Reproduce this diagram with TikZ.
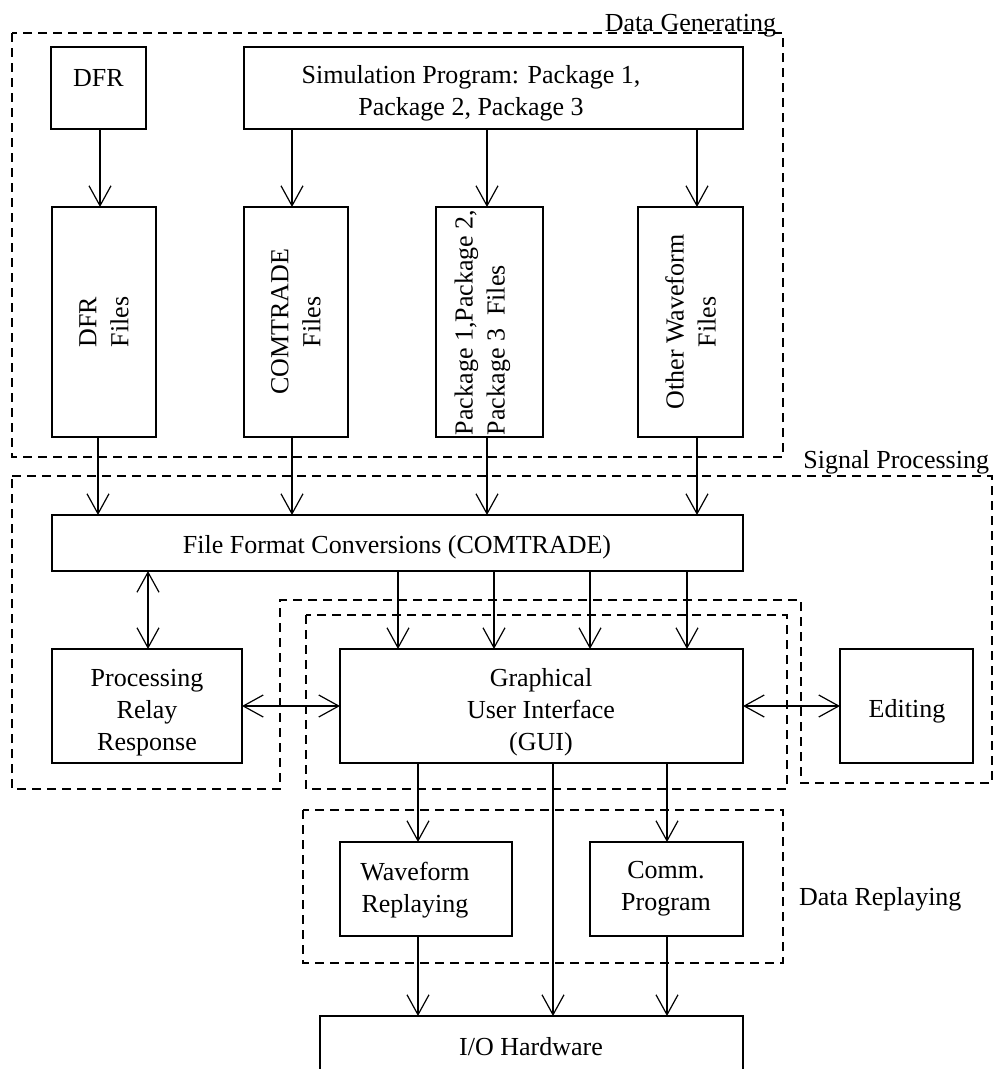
\documentclass[tikz,border=0pt]{standalone}
\usepackage{fontspec}
\setmainfont{Liberation Serif}
\usetikzlibrary{arrows.meta}
\begin{document}
\begin{tikzpicture}[x=1pt,y=-1pt,
  font=\fontsize{26}{32}\selectfont,
  box/.style={draw, line width=1.6pt, anchor=north west, inner sep=0pt, outer sep=0pt, align=center},
  txt/.style={inner sep=0pt, outer sep=0pt, align=center},
  arr/.style={line width=1.6pt, -{Straight Barb[length=20pt,width=22pt,line width=1.2pt]}},
  biarr/.style={line width=1.6pt, {Straight Barb[length=20pt,width=22pt,line width=1.2pt]}-{Straight Barb[length=20pt,width=22pt,line width=1.2pt]}},
  grp/.style={line width=1.5pt, dash pattern=on 9pt off 6pt},
]
\useasboundingbox (0,0) rectangle (993,1069);
\clip (0,0) rectangle (993,1069);

% ---- group outlines ----
\draw[grp] (12,33) rectangle (783,457);
\draw[grp] (12,476) -- (992,476) -- (992,783) -- (801,783) -- (801,600)
           -- (280,600) -- (280,789) -- (12,789) -- cycle;
\draw[grp] (306,615) rectangle (787,789);
\draw[grp] (303,810) rectangle (783,963);

\node[txt, anchor=base east] (lgen) at (776,31) {Data Generating};
\node[txt, anchor=base east] (lsig) at (989,468) {Signal Processing};
\node[txt, anchor=base west] (lrep) at (799,905) {Data Replaying};

% ---- data sources ----
% (for multi-line text the base anchor sits on the last line)
\node[box, minimum width=95pt, minimum height=82pt] (dfr) at (51,47) {};
\node[txt, anchor=base] (dfrt) at (98.5,86) {DFR};
\node[box, minimum width=499pt, minimum height=82pt] (sim) at (244,47) {};
\node[txt, anchor=base] (simt) at (471,115) {Simulation Program: Package 1,\\Package 2, Package 3};

% ---- file boxes ----
\node[box, minimum width=104pt, minimum height=230pt] (dfrf) at (52,207) {};
\node[box, minimum width=104pt, minimum height=230pt] (comf) at (244,207) {};
\node[box, minimum width=107pt, minimum height=230pt] (pkgf) at (436,207) {};
\node[box, minimum width=105pt, minimum height=230pt] (othf) at (638,207) {};
\node[txt, rotate=90] (dfrft) at (dfrf.center) {DFR\\Files};
\node[txt, rotate=90] (comft) at (comf.center) {COMTRADE\\Files};
\node[txt, rotate=90, anchor=west, align=left] (pkgft) at (482.5,435) {Package 1,Package 2,\\Package 3\ \ Files};
\node[txt, rotate=90] (othft) at (othf.center) {Other Waveform\\Files};

% ---- processing ----
\node[box, minimum width=691pt, minimum height=56pt] (ffc) at (52,515) {};
\node[txt, anchor=base] (ffct) at (397,553) {File Format Conversions (COMTRADE)};
\node[box, minimum width=190pt, minimum height=114pt] (proc) at (52,649) {};
\node[txt, anchor=base] (proct) at (147,750) {Processing\\Relay\\Response};
\node[box, minimum width=403pt, minimum height=114pt] (gui) at (340,649) {};
\node[txt, anchor=base] (guit) at (541,750) {Graphical\\User Interface\\(GUI)};
\node[box, minimum width=133pt, minimum height=114pt] (edit) at (840,649) {};
\node[txt, anchor=base] (editt) at (907,717) {Editing};

% ---- replaying ----
\node[box, minimum width=172pt, minimum height=94pt] (wave) at (340,842) {};
\node[txt, anchor=base] (wavet) at (415,912) {Waveform\\Replaying};
\node[box, minimum width=153pt, minimum height=94pt] (comm) at (590,842) {};
\node[txt, anchor=base] (commt) at (666,910) {Comm.\\Program};
\node[box, minimum width=423pt, minimum height=100pt] (io) at (320,1016) {};
\node[txt, anchor=base] (iot) at (531,1055) {I/O Hardware};

% ---- connectors ----
\draw[arr] (dfr.south -| 100,0) -- (dfrf.north -| 100,0);
\draw[arr] (sim.south -| 292,0) -- (comf.north -| 292,0);
\draw[arr] (sim.south -| 487,0) -- (pkgf.north -| 487,0);
\draw[arr] (sim.south -| 697,0) -- (othf.north -| 697,0);

\draw[arr] (dfrf.south -| 98,0) -- (ffc.north -| 98,0);
\draw[arr] (comf.south -| 292,0) -- (ffc.north -| 292,0);
\draw[arr] (pkgf.south -| 487,0) -- (ffc.north -| 487,0);
\draw[arr] (othf.south -| 697,0) -- (ffc.north -| 697,0);

\draw[arr] (ffc.south -| 398,0) -- (gui.north -| 398,0);
\draw[arr] (ffc.south -| 494,0) -- (gui.north -| 494,0);
\draw[arr] (ffc.south -| 590,0) -- (gui.north -| 590,0);
\draw[arr] (ffc.south -| 687,0) -- (gui.north -| 687,0);

\draw[biarr] (ffc.south -| 148,0) -- (proc.north -| 148,0);
\draw[biarr] (proc.east |- 0,706) -- (gui.west |- 0,706);
\draw[biarr] (gui.east |- 0,706) -- (edit.west |- 0,706);

\draw[arr] (gui.south -| 418,0) -- (wave.north -| 418,0);
\draw[arr] (gui.south -| 667,0) -- (comm.north -| 667,0);
\draw[arr] (gui.south -| 553,0) -- (io.north -| 553,0);
\draw[arr] (wave.south -| 418,0) -- (io.north -| 418,0);
\draw[arr] (comm.south -| 667,0) -- (io.north -| 667,0);
\end{tikzpicture}
\end{document}
